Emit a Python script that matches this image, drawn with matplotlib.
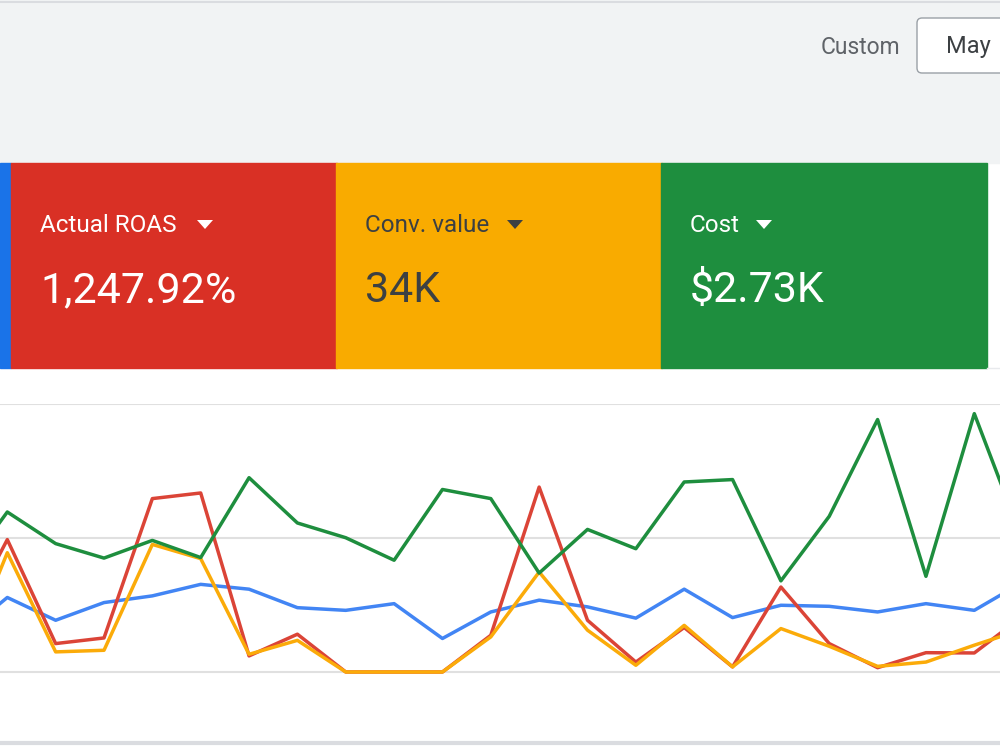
import matplotlib
matplotlib.use('Agg')
import matplotlib.pyplot as plt
from matplotlib.patches import Rectangle, FancyBboxPatch, Polygon

plt.rcParams['font.family'] = ['Roboto', 'DejaVu Sans']

# metric cards
card_labels = ['Actual ROAS', 'Conv. value', 'Cost']
card_values = ['1,247.92%', '34K', '$2.73K']
card_colors = ['#d93025', '#f9ab00', '#1e8e3e']
card_text = ['white', '#3c4043', 'white']

# daily series (relative scale, gridlines at 0 / 50 / 100)
blue = [12.9, 27.8, 19.3, 25.9, 28.4, 32.7, 30.9, 24.0, 23.0, 25.5, 12.5, 22.4,
        26.8, 24.3, 20.1, 30.9, 20.3, 24.9, 24.5, 22.4, 25.5, 23.0, 33.5]
red = [14.8, 49.4, 10.6, 12.7, 64.7, 66.8, 6.0, 14.1, 0, 0, 0, 13.7,
       69.0, 19.3, 3.7, 16.6, 1.9, 31.7, 10.6, 1.6, 7.2, 7.1, 20.8]
yellow = [0, 44.5, 7.5, 8.1, 47.6, 42.3, 6.6, 11.8, 0, 0, 0, 13.1,
          37.3, 15.6, 2.5, 17.4, 1.9, 16.2, 9.6, 2.1, 3.7, 10.0, 15.9]
green = [35.0, 59.7, 47.9, 42.5, 49.1, 42.7, 72.5, 55.6, 50.1, 41.7, 68.1, 64.7,
         36.9, 53.2, 46.0, 70.9, 71.8, 34.0, 58.1, 94.2, 35.7, 96.4, 49.1]
days = list(range(len(blue)))

fig = plt.figure(figsize=(10, 7.5), dpi=100)

# UI layer in pixel coordinates
ui = fig.add_axes([0, 0, 1, 1])
ui.set_xlim(0, 1000)
ui.set_ylim(750, 0)
ui.axis('off')

ui.add_patch(Rectangle((0, 0), 1000, 163, color='#f1f3f4', zorder=0))
ui.plot([0, 1000], [2, 2], color='#dadce0', lw=1.5)
ui.text(900, 47, 'Custom', fontsize=16.5, color='#5f6368', ha='right', va='center')
ui.add_patch(FancyBboxPatch((917, 18), 120, 55, boxstyle='round,pad=0,rounding_size=5',
                            facecolor='white', edgecolor='#9aa0a6', lw=1))
ui.text(946, 47, 'May', fontsize=17, color='#3c4043', ha='left', va='center')

ui.add_patch(Rectangle((0, 163), 11, 205, color='#1a73e8'))
tri_x = [205, 515, 764]
for i, (lab, val, col, tc) in enumerate(zip(card_labels, card_values, card_colors, card_text)):
    x0 = 11 + i * 325
    ui.add_patch(Rectangle((x0, 163), 326, 205, color=col))
    ui.text(x0 + 29, 225, lab, fontsize=17.5, color=tc, ha='left', va='center')
    ui.text(x0 + 29, 291, val, fontsize=31, color=tc, ha='left', va='center')
    tx = tri_x[i]
    ui.add_patch(Polygon([(tx - 8, 220), (tx + 8, 220), (tx, 229)], closed=True,
                         facecolor=tc, edgecolor='none'))
ui.plot([987, 1000], [368, 368], color='#e8eaed', lw=1)
ui.plot([0, 1000], [743, 743], color='#dadce0', lw=3)

# chart
ax = fig.add_axes([0, 7 / 750, 1, 339 / 750])
ax.set_xlim(1 - 7.3 / 48.35, 1 + (1000 - 7.3) / 48.35)
ax.set_ylim(-26.5, 100)
ax.axis('off')
for g in [0, 50, 100]:
    ax.axhline(g, color='#e0e0e0', lw=1.5, zorder=1)
ax.plot(days, blue, color='#4285f4', lw=2.5, zorder=3)
ax.plot(days, red, color='#db4437', lw=2.5, zorder=4)
ax.plot(days, yellow, color='#fbab09', lw=2.5, zorder=5)
ax.plot(days, green, color='#1e8e3e', lw=2.5, zorder=6, clip_on=False)

fig.savefig('out.png', dpi=100)
